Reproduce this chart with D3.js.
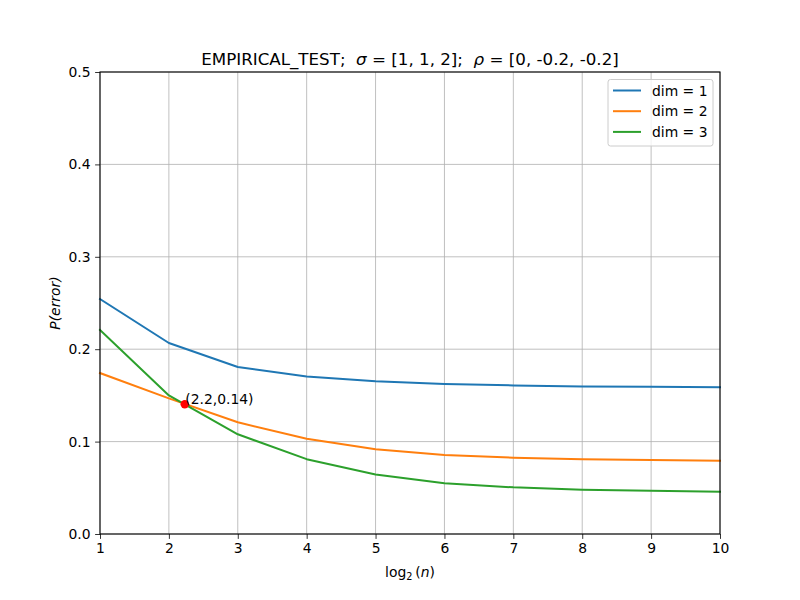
<!DOCTYPE html>
<html><head><meta charset="utf-8">
<script src="https://cdn.jsdelivr.net/npm/d3@7"></script>
<style>body{margin:0;background:#fff;} text{font-family:"DejaVu Sans",sans-serif;white-space:pre;}</style>
</head><body><svg id="c" width="800" height="600"></svg>
<script>
const xVals = [1,2,3,4,5,6,7,8,9,10];
const dim1 = [0.2543,0.2067,0.1807,0.1705,0.1654,0.1623,0.1608,0.1597,0.1593,0.1587];
const dim2 = [0.1742,0.1468,0.1209,0.1030,0.0916,0.0855,0.0826,0.0810,0.0800,0.0794];
const dim3 = [0.2208,0.1500,0.1079,0.0810,0.0645,0.0550,0.0505,0.0480,0.0467,0.0458];
const seriesNames = ["dim = 1","dim = 2","dim = 3"];
const colors = ["#1f77b4","#ff7f0e","#2ca02c"];
const xTicks = [1,2,3,4,5,6,7,8,9,10];
const yTicks = [0,0.1,0.2,0.3,0.4,0.5];
const marker = [2.23,0.1405];
const markerLabel = "(2.2,0.14)";

const svg = d3.select("#c");
const L=100,R=720,T=72,B=534;
const x = d3.scaleLinear().domain([1,10]).range([L,R]);
const y = d3.scaleLinear().domain([0,0.5]).range([B,T]);
const fs = 13.9;

// grid
const g = svg.append("g");
g.selectAll(".gx").data(xTicks).enter().append("line")
 .attr("x1",d=>x(d)).attr("x2",d=>x(d)).attr("y1",T).attr("y2",B)
 .attr("stroke","#b0b0b0").attr("stroke-width",0.8);
g.selectAll(".gy").data(yTicks).enter().append("line")
 .attr("x1",L).attr("x2",R).attr("y1",d=>y(d)).attr("y2",d=>y(d))
 .attr("stroke","#b0b0b0").attr("stroke-width",0.8);

// lines
const line = d3.line().x((d,i)=>x(xVals[i])).y(d=>y(d));
[dim1,dim2,dim3].forEach((s,i)=>{
  svg.append("path").datum(s).attr("d",line).attr("fill","none")
   .attr("stroke",colors[i]).attr("stroke-width",2).attr("stroke-linejoin","round").attr("stroke-linecap","square");
});

// marker
svg.append("circle").attr("cx",x(marker[0])).attr("cy",y(marker[1])).attr("r",4.2).attr("fill","red");
svg.append("text").attr("x",x(marker[0])+0.5).attr("y",y(marker[1])).attr("font-size",fs).text(markerLabel);

// axes
const xAxis = d3.axisBottom(x).tickValues(xTicks).tickSize(4.9).tickPadding(4.5).tickFormat(d3.format("d"));
const yAxis = d3.axisLeft(y).tickValues(yTicks).tickSize(4.9).tickPadding(4.5).tickFormat(d3.format(".1f"));
const gx = svg.append("g").attr("transform",`translate(0,${B})`).call(xAxis);
const gy = svg.append("g").attr("transform",`translate(${L},0)`).call(yAxis);
[gx,gy].forEach(a=>{
  a.select(".domain").remove();
  a.selectAll("line").attr("stroke","#000").attr("stroke-width",0.8);
  a.selectAll("text").attr("font-size",fs).attr("font-family","DejaVu Sans").attr("fill","#000");
});
// frame
svg.append("rect").attr("x",L).attr("y",T).attr("width",R-L).attr("height",B-T)
 .attr("fill","none").attr("stroke","#000").attr("stroke-width",1.1);

// title
const title = svg.append("text").attr("x",(L+R)/2).attr("y",65).attr("text-anchor","middle").attr("font-size",16.7)
 .attr("xml:space","preserve");
title.append("tspan").text("EMPIRICAL_TEST;\u00a0\u00a0");
title.append("tspan").attr("font-style","italic").text("σ");
title.append("tspan").text("\u00a0=\u00a0[1, 1, 2];\u00a0\u00a0");
title.append("tspan").attr("font-style","italic").text("ρ");
title.append("tspan").text("\u00a0=\u00a0[0, -0.2, -0.2]");

// x label
const xl = svg.append("text").attr("x",(L+R)/2).attr("y",577).attr("text-anchor","middle").attr("font-size",fs);
xl.append("tspan").text("log");
xl.append("tspan").attr("font-size",fs*0.7).attr("dy",3).text("2");
xl.append("tspan").attr("dy",-3).text("\u2009(");
xl.append("tspan").attr("font-style","italic").text("n");
xl.append("tspan").text(")");

// y label
svg.append("text").attr("transform",`translate(60,${(T+B)/2}) rotate(-90)`).attr("text-anchor","middle")
 .attr("font-size",fs).attr("font-style","italic").text("P(error)");

// legend
const lg = svg.append("g");
lg.append("rect").attr("x",608).attr("y",79.5).attr("width",105).attr("height",66.5).attr("rx",2.5)
 .attr("fill","#fff").attr("fill-opacity",0.8).attr("stroke","#cccccc").attr("stroke-width",1);
seriesNames.forEach((n,i)=>{
  const yy = 90.5 + i*20.7;
  lg.append("line").attr("x1",613).attr("x2",641).attr("y1",yy).attr("y2",yy).attr("stroke",colors[i]).attr("stroke-width",2);
  lg.append("text").attr("x",652).attr("y",yy+5).attr("font-size",fs).text(n);
});
</script></body></html>
